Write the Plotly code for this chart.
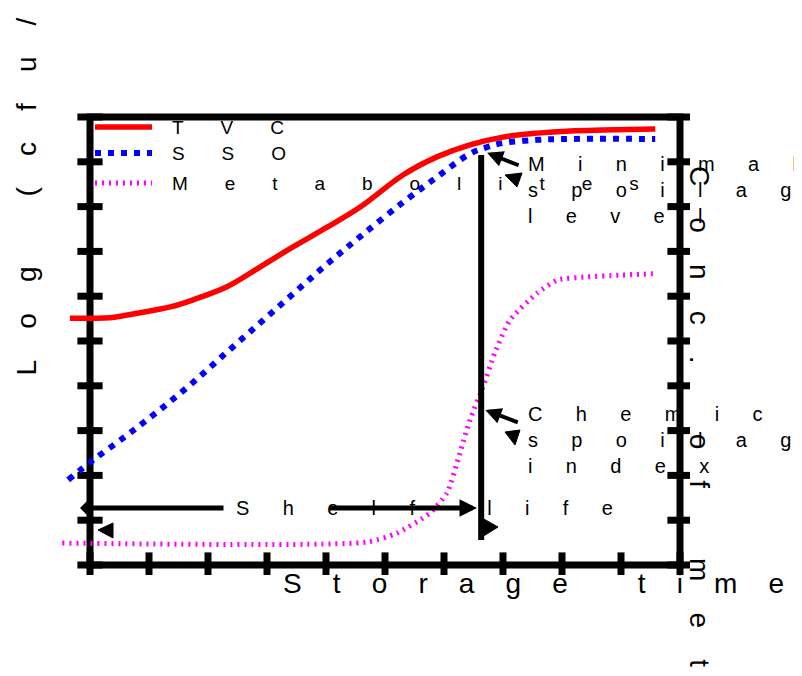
import plotly.graph_objects as go

# ---------------- data ----------------
time_tvc = [-0.34, 0.0, 0.34, 0.85, 1.36, 1.75, 2.32, 2.88, 3.44, 4.02, 4.58,
            5.31, 5.88, 6.44, 7.0, 7.58, 8.14, 8.69, 9.58]
log_tvc = [5.51, 5.51, 5.52, 5.63, 5.76, 5.92, 6.21, 6.65, 7.10, 7.54, 7.99,
           8.71, 9.11, 9.38, 9.55, 9.64, 9.69, 9.71, 9.73]

time_sso = [-0.37, 0.05, 0.63, 1.19, 1.75, 2.32, 2.88, 3.44, 4.02, 4.58, 5.31,
            5.88, 6.44, 6.73, 7.0, 7.58, 8.14, 9.58]
log_sso = [1.90, 2.34, 2.90, 3.47, 4.08, 4.75, 5.40, 6.05, 6.72, 7.33, 8.10,
           8.66, 9.18, 9.33, 9.42, 9.49, 9.51, 9.51]

time_met = [-0.47, 4.69, 5.20, 5.76, 6.05, 6.27, 6.44, 6.66, 6.86, 7.12, 7.58,
            7.92, 8.42, 8.98, 9.54]
conc_met = [0.49, 0.51, 0.71, 1.16, 1.61, 2.50, 3.24, 3.97, 4.73, 5.47, 6.07,
            6.36, 6.43, 6.47, 6.50]

series_names = ["TVC", "SSO", "Metabolites"]
tick_values = list(range(11))          # unlabelled ticks on all three axes

shelf_life = 6.63                      # time at which the shelf life ends
msl_level = 9.2                        # minimal spoilage level (log cfu/g)
csi_level = 3.46                       # chemical spoilage index (conc.)
shelf_arrow_level = 1.27
vline_bottom, vline_top = 0.56, 9.15

x_title = "Storage time"
y_title = "Log (cfu/g)"
y2_title = "Conc. of metabolites"
msl_text = ["Minimal", "spoilage", "level"]
csi_text = ["Chemical", "spoilage", "index"]
shelf_text = "Shelf life"

# ---------------- helpers ----------------
NB = "\u00a0"
FONT = "Liberation Sans, Arial, sans-serif"


def spaced(s, n):
    return (NB * n).join(NB if c == " " else c for c in s)


# pixel geometry of the plotting area (screen pixels; page body adds 8 px)
OFF = 8
L, R, T, B = 60, 690, 107, 575
W, H = 802, 676


def px2x(px):
    return (px - 90) / 59.0


def py2y(py):
    return (565 - py) / 44.8


def pxp(px):
    return (px - L) / (R - L)


def pyp(py):
    return (B - py) / (B - T)


fig = go.Figure()

# tick marks (thick, crossing the axis lines)
tick_marker_h = dict(symbol="line-ew", size=18, line=dict(width=7, color="black"))
tick_marker_v = dict(symbol="line-ns", size=18, line=dict(width=7, color="black"))
fig.add_trace(go.Scatter(x=[0] * len(tick_values), y=tick_values, mode="markers",
                         marker=tick_marker_h, showlegend=False, hoverinfo="skip"))
fig.add_trace(go.Scatter(x=[10] * len(tick_values), y=tick_values, mode="markers",
                         marker=tick_marker_h, showlegend=False, hoverinfo="skip"))
fig.add_trace(go.Scatter(x=tick_values, y=[0] * len(tick_values), mode="markers",
                         marker=tick_marker_v, showlegend=False, hoverinfo="skip"))

# data curves
red = dict(color="#ff0000", width=5.5)
blue = dict(color="#0000ff", width=6, dash="6px,7px")
mag = dict(color="#ff00ff", width=5, dash="2px,5px")
fig.add_trace(go.Scatter(x=time_tvc, y=log_tvc, mode="lines", name=series_names[0],
                         line=dict(shape="spline", smoothing=1.0, **red), showlegend=False))
fig.add_trace(go.Scatter(x=time_sso, y=log_sso, mode="lines", name=series_names[1],
                         line=dict(shape="spline", smoothing=1.0, **blue), showlegend=False))
fig.add_trace(go.Scatter(x=time_met, y=conc_met, mode="lines", name=series_names[2],
                         line=dict(shape="spline", smoothing=0.6, **mag), showlegend=False))

shapes = []
# frame
shapes.append(dict(type="rect", xref="x", yref="y", x0=0, x1=10, y0=0, y1=10,
                   line=dict(color="black", width=7), layer="below"))
# shelf-life vertical line
shapes.append(dict(type="line", xref="x", yref="y", x0=shelf_life, x1=shelf_life,
                   y0=vline_bottom, y1=vline_top, line=dict(color="black", width=6)))

# hand-drawn legend
leg_rows = [(127, red), (153, blue), (183, mag)]
for py, st in leg_rows:
    ln = dict(color=st["color"], width=st["width"])
    if "dash" in st:
        ln["dash"] = st["dash"]
    shapes.append(dict(type="line", xref="paper", yref="paper", x0=pxp(95), x1=pxp(152),
                       y0=pyp(py), y1=pyp(py), line=ln))


# stray arrow heads
def tri(pts):
    p = " L ".join(f"{px2x(a):.4f},{py2y(b):.4f}" for a, b in pts)
    return dict(type="path", xref="x", yref="y", path="M " + p + " Z",
                fillcolor="black", line=dict(color="black", width=1))


shapes.append(tri([(98, 530), (113, 523), (113, 538)]))
shapes.append(tri([(498, 527), (482, 518), (482, 537)]))
shapes.append(tri([(505, 175), (522, 173), (517, 187)]))
shapes.append(tri([(505, 432), (520, 430), (515, 445)]))

ann = []
tf = lambda s: dict(family=FONT, size=s, color="black")

# legend labels
for name, py in zip(series_names, [128, 153, 183]):
    ann.append(dict(xref="paper", yref="paper", x=pxp(170), y=pyp(py), text=spaced(name, 7),
                    showarrow=False, xanchor="left", yanchor="middle", font=tf(19)))

# axis titles
ann.append(dict(xref="paper", yref="paper", x=pxp(281), y=pyp(583), text=spaced(x_title, 4),
                showarrow=False, xanchor="left", yanchor="middle", font=tf(28)))
ann.append(dict(xref="paper", yref="paper", x=pxp(26), y=pyp(378), text=spaced(y_title, 4),
                showarrow=False, xanchor="center", yanchor="bottom", textangle=-90, font=tf(28)))
ann.append(dict(xref="paper", yref="paper", x=pxp(700), y=pyp(164), text=spaced(y2_title, 4),
                showarrow=False, xanchor="center", yanchor="top", textangle=90, font=tf(28)))

# annotation texts
ann.append(dict(xref="paper", yref="paper", x=pxp(526), y=pyp(151),
                text="<br>".join(spaced(s, 6) for s in msl_text), align="left",
                showarrow=False, xanchor="left", yanchor="top", font=tf(20)))
ann.append(dict(xref="paper", yref="paper", x=pxp(526), y=pyp(401),
                text="<br>".join(spaced(s, 6) for s in csi_text), align="left",
                showarrow=False, xanchor="left", yanchor="top", font=tf(20)))
ann.append(dict(xref="paper", yref="paper", x=pxp(234), y=pyp(508), text=spaced(shelf_text, 6),
                showarrow=False, xanchor="left", yanchor="middle", font=tf(20)))

# arrows
arrow = dict(text="", showarrow=True, arrowcolor="black", xref="x", yref="y", axref="pixel", ayref="pixel")
ann.append(dict(arrow, x=shelf_life + 0.1, y=msl_level, ax=33, ay=13,
                arrowhead=2, arrowsize=0.8, arrowwidth=4))
ann.append(dict(arrow, x=shelf_life + 0.07, y=csi_level, ax=34, ay=13,
                arrowhead=2, arrowsize=0.8, arrowwidth=4))
ann.append(dict(arrow, x=px2x(477), y=shelf_arrow_level, ax=-149, ay=0,
                arrowhead=2, arrowsize=0.7, arrowwidth=5))
ann.append(dict(arrow, x=px2x(80), y=shelf_arrow_level, ax=145, ay=0,
                arrowhead=4, arrowsize=0.6, arrowwidth=5))

fig.update_layout(
    width=W, height=H,
    margin=dict(l=L - OFF, r=W - (R - OFF), t=T - OFF, b=H - (B - OFF), pad=0),
    paper_bgcolor="white", plot_bgcolor="white",
    xaxis=dict(range=[px2x(L), px2x(R)], visible=False, showgrid=False, zeroline=False),
    yaxis=dict(range=[py2y(B), py2y(T)], visible=False, showgrid=False, zeroline=False),
    shapes=shapes, annotations=ann, showlegend=False,
    font=dict(family=FONT),
)

fig.write_html("out.html")
